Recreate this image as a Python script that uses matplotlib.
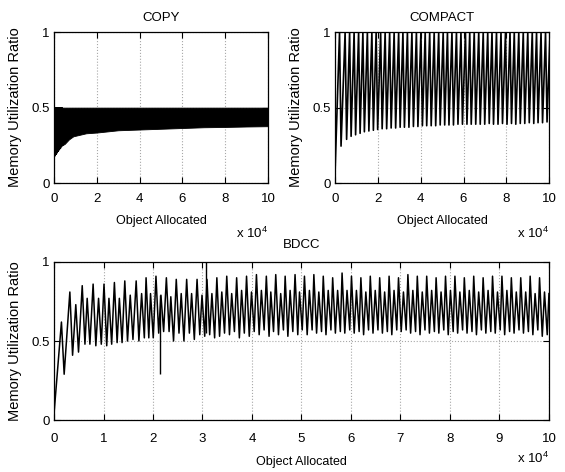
import numpy as np
import matplotlib
matplotlib.use("Agg")
import matplotlib.pyplot as plt

plt.rcParams['font.family'] = ['Liberation Sans', 'DejaVu Sans']
plt.rcParams['mathtext.fontset'] = 'custom'
plt.rcParams['mathtext.rm'] = 'Liberation Sans'

# x values are in units of 1e4 objects allocated

# COPY: first individually visible teeth, then a dense band between the lower envelope and 0.5
copy_start = (0.0, 0.05)
copy_peak_x = [0.03, 0.08, 0.13, 0.18, 0.23, 0.28, 0.33, 0.38]
copy_peak = [0.50, 0.50, 0.50, 0.50, 0.50, 0.50, 0.50, 0.50]
copy_trough = [0.18, 0.19, 0.20, 0.21, 0.22, 0.23, 0.24, 0.25]
copy_band_x = [0.38, 0.5, 0.7, 0.9, 1.2, 1.5, 2.0, 3.0, 4.0, 5.0, 6.0, 7.0, 8.0, 9.0, 10.0]
copy_band_low = [0.25, 0.26, 0.29, 0.31, 0.32, 0.33, 0.335, 0.35, 0.355, 0.36, 0.365, 0.37, 0.372,
                 0.375, 0.377]
copy_band_high = 0.5

# COMPACT: each cycle climbs to 1 and drops back to a trough
compact_start = (0.0, 0.07)
compact_trough_x = [0.28, 0.54, 0.75, 0.96, 1.17, 1.37, 1.58, 1.79, 1.99, 2.20, 2.41, 2.62,
                    2.83, 3.04, 3.24, 3.45, 3.66, 3.87, 4.08, 4.28, 4.49, 4.70, 4.91, 5.12,
                    5.32, 5.53, 5.74, 5.95, 6.16, 6.36, 6.57, 6.78, 6.99, 7.20, 7.40, 7.61,
                    7.82, 8.03, 8.24, 8.44, 8.65, 8.86, 9.07, 9.28, 9.48, 9.69, 9.90]
compact_trough = [0.245, 0.29, 0.31, 0.32, 0.33, 0.34, 0.345, 0.35, 0.355, 0.36, 0.36, 0.365,
                  0.365, 0.37, 0.37, 0.37, 0.375, 0.375, 0.38, 0.38, 0.38, 0.38, 0.385, 0.385,
                  0.385, 0.385, 0.39, 0.39, 0.39, 0.39, 0.39, 0.39, 0.39, 0.395, 0.39, 0.39,
                  0.395, 0.39, 0.395, 0.39, 0.395, 0.395, 0.40, 0.395, 0.40, 0.40, 0.405]
compact_peak = 1.0

# BDCC: alternating tall / short teeth
bdcc_start = (0.0, 0.04)
bdcc_end = (10.0, 0.80)
bdcc_peak_x = [0.15, 0.32, 0.44, 0.57, 0.67, 0.79, 0.90, 1.01, 1.11, 1.22,
               1.32, 1.43, 1.54, 1.66, 1.77, 1.86, 1.95, 2.06, 2.16, 2.27,
               2.36, 2.47, 2.57, 2.68, 2.78, 2.89, 2.99, 3.09, 3.19, 3.29,
               3.39, 3.49, 3.59, 3.69, 3.79, 3.89, 3.99, 4.09, 4.19, 4.29,
               4.38, 4.48, 4.58, 4.67, 4.77, 4.87, 4.96, 5.06, 5.16, 5.25,
               5.35, 5.44, 5.54, 5.63, 5.73, 5.82, 5.92, 6.01, 6.11, 6.20,
               6.30, 6.39, 6.49, 6.58, 6.68, 6.77, 6.87, 6.96, 7.06, 7.15,
               7.25, 7.34, 7.44, 7.53, 7.63, 7.72, 7.82, 7.91, 8.01, 8.10,
               8.20, 8.29, 8.39, 8.48, 8.58, 8.67, 8.77, 8.86, 8.96, 9.05,
               9.15, 9.24, 9.34, 9.43, 9.53, 9.62, 9.72, 9.81, 9.91]
bdcc_peak = [0.62, 0.81, 0.73, 0.85, 0.77, 0.86, 0.77, 0.86, 0.77, 0.87,
             0.77, 0.88, 0.79, 0.88, 0.80, 0.90, 0.80, 0.91, 0.79, 0.90,
             0.78, 0.89, 0.80, 0.89, 0.80, 0.89, 0.79, 0.89, 0.80, 0.90,
             0.81, 0.91, 0.80, 0.90, 0.82, 0.91, 0.81, 0.92, 0.82, 0.91,
             0.81, 0.92, 0.80, 0.91, 0.82, 0.92, 0.81, 0.91, 0.82, 0.92,
             0.81, 0.91, 0.82, 0.90, 0.82, 0.93, 0.82, 0.91, 0.82, 0.90,
             0.81, 0.91, 0.82, 0.90, 0.81, 0.91, 0.82, 0.90, 0.81, 0.92,
             0.82, 0.91, 0.81, 0.91, 0.82, 0.90, 0.81, 0.91, 0.82, 0.91,
             0.81, 0.90, 0.82, 0.91, 0.81, 0.90, 0.82, 0.91, 0.81, 0.91,
             0.82, 0.90, 0.81, 0.90, 0.81, 0.91, 0.80, 0.90, 0.81]
bdcc_trough = [0.29, 0.41, 0.43, 0.48, 0.48, 0.47, 0.48, 0.47, 0.48, 0.49,
               0.49, 0.50, 0.51, 0.50, 0.52, 0.52, 0.52, 0.55, 0.56, 0.56,
               0.50, 0.55, 0.50, 0.55, 0.51, 0.54, 0.53, 0.54, 0.52, 0.53,
               0.55, 0.54, 0.56, 0.52, 0.55, 0.53, 0.56, 0.54, 0.57, 0.53,
               0.56, 0.54, 0.57, 0.53, 0.56, 0.54, 0.57, 0.54, 0.57, 0.55,
               0.56, 0.54, 0.57, 0.55, 0.56, 0.55, 0.57, 0.55, 0.56, 0.54,
               0.57, 0.55, 0.57, 0.55, 0.56, 0.54, 0.57, 0.56, 0.57, 0.55,
               0.56, 0.54, 0.57, 0.55, 0.56, 0.55, 0.57, 0.54, 0.56, 0.55,
               0.57, 0.55, 0.56, 0.54, 0.57, 0.55, 0.56, 0.55, 0.57, 0.54,
               0.56, 0.55, 0.57, 0.55, 0.56, 0.54, 0.57, 0.53, 0.54]
# two single-sample spikes
bdcc_spike_x = [2.15, 3.08]
bdcc_spike_lo = [0.29, 0.55]
bdcc_spike_hi = [0.79, 1.00]


def zigzag(start, peak_x, peak_y, trough_y, drop, end=None):
    xs, ys = [start[0]], [start[1]]
    for px, py, ty in zip(peak_x, peak_y, trough_y):
        xs += [px, px + drop]
        ys += [py, ty]
    if end is not None:
        xs.append(end[0])
        ys.append(end[1])
    return xs, ys


def style(ax, title, xstep, title_pad, tick_pad, xlab_pad, offset_y):
    ax.set_xlim(0, 10)
    ax.set_ylim(0, 1)
    ax.set_xticks(np.arange(0, 11, xstep))
    ax.set_yticks([0, 0.5, 1])
    ax.set_yticklabels(['0', '0.5', '1'])
    ax.tick_params(direction='in', top=True, right=True, length=4, width=0.8,
                   labelsize=9.5, colors='black')
    ax.tick_params(axis='x', pad=tick_pad)
    ax.tick_params(axis='y', pad=3)
    ax.grid(True, linestyle=':', color='#a8a8a8', linewidth=0.8)
    ax.set_axisbelow(True)
    for s in ax.spines.values():
        s.set_linewidth(0.9)
    ax.set_title(title, fontsize=9.5, pad=title_pad)
    ax.set_xlabel('Object Allocated', fontsize=9, labelpad=xlab_pad)
    ax.set_ylabel('Memory Utilization Ratio', fontsize=10.5, labelpad=7)
    ax.text(1.0, offset_y, r'x 10$^{\mathregular{4}}$', transform=ax.transAxes,
            ha='right', va='baseline', fontsize=9.5)


fig = plt.figure(figsize=(5.65, 4.72), dpi=100)
ax1 = fig.add_axes([0.0956, 0.612, 0.379, 0.320])
ax2 = fig.add_axes([0.593, 0.612, 0.379, 0.320])
ax3 = fig.add_axes([0.0956, 0.110, 0.876, 0.335])

# COPY
cx, cy = zigzag(copy_start, copy_peak_x, copy_peak, copy_trough, 0.025)
ax1.plot(cx, cy, color='black', lw=0.9)
ax1.fill_between(copy_band_x, copy_band_low, copy_band_high, color='black', lw=0.6,
                 edgecolor='black')
style(ax1, 'COPY', 2, 8, 7, 7, -0.364)

# COMPACT
kx, ky = [compact_start[0]], [compact_start[1]]
for tx, tv in zip(compact_trough_x, compact_trough):
    kx += [tx - 0.07, tx]
    ky += [compact_peak, tv]
kx.append(compact_trough_x[-1] + 0.14)
ky.append(compact_peak)
ax2.plot(kx, ky, color='black', lw=1.2)
style(ax2, 'COMPACT', 2, 8, 7, 7, -0.364)

# BDCC
bx, by = zigzag(bdcc_start, bdcc_peak_x, bdcc_peak, bdcc_trough, 0.055, bdcc_end)
ax3.plot(bx, by, color='black', lw=1.1)
ax3.vlines(bdcc_spike_x, bdcc_spike_lo, bdcc_spike_hi, color='black', lw=1.0)
style(ax3, 'BDCC', 1, 10, 9, 8, -0.272)

fig.savefig('out.png', dpi=100)
